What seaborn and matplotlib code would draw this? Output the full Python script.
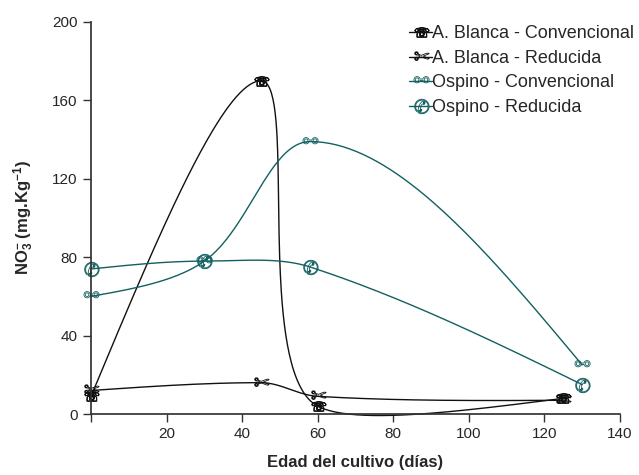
import numpy as np
import seaborn as sns
import matplotlib
matplotlib.use("Agg")
from matplotlib import pyplot as plt
from matplotlib.lines import Line2D
from matplotlib.path import Path
from matplotlib.textpath import TextPath
from matplotlib.font_manager import FontProperties

# sampling days
dias_blanca = [0, 45, 60, 125]
dias_ospino = [0, 30, 58, 130]

# NO3- values (mg/kg)
blanca_conv = [9, 170, 4, 8]
blanca_red = [12, 16, 9, 7]
ospino_conv = [60, 78, 139, 25]
ospino_red = [74, 78, 75, 15]

series_names = ["A. Blanca - Convencional", "A. Blanca - Reducida",
                "Ospino - Convencional", "Ospino - Reducida"]

BLACK = "#111111"
TEAL = "#136060"

sns.set_theme(style="ticks")
plt.rcParams["font.family"] = ["Liberation Sans", "DejaVu Sans"]
plt.rcParams["mathtext.fontset"] = "custom"
plt.rcParams["mathtext.rm"] = "Liberation Sans:bold"
plt.rcParams["mathtext.bf"] = "Liberation Sans:bold"
plt.rcParams["mathtext.default"] = "bf"


def glyph(ch):
    # turn a dingbat glyph into a centered marker path
    tp = TextPath((0, 0), ch, prop=FontProperties(family="DejaVu Sans"))
    v = tp.vertices.copy()
    c = (v.min(axis=0) + v.max(axis=0)) / 2
    return Path(v - c, tp.codes)


def smooth(xs, ys, n=80):
    # parametric hermite spline in axis-normalised space:
    # tangents split by segment length, flat-ish at peaks/valleys, natural ends
    p = np.column_stack([np.asarray(xs) / 140.0, np.asarray(ys) / 200.0])
    npt = len(p)
    L = np.linalg.norm(np.diff(p, axis=0), axis=1)
    t = np.linspace(0, 1, n)[:, None]
    h00 = 2 * t**3 - 3 * t**2 + 1
    h10 = t**3 - 2 * t**2 + t
    h01 = -2 * t**3 + 3 * t**2
    h11 = t**3 - t**2

    def tan(j, seg):
        m = (p[j + 1] - p[j - 1]) * L[seg] / (L[j - 1] + L[j])
        up = p[j, 1] - p[j - 1, 1]
        down = p[j + 1, 1] - p[j, 1]
        if up > 0 and down < 0:
            m[1] = 0.0
        elif up < 0 and down > 0:
            m[1] *= 0.5
        return m

    out = []
    for i in range(npt - 1):
        m1 = tan(i, i) if i > 0 else None
        m2 = tan(i + 1, i) if i + 1 < npt - 1 else None
        chord = p[i + 1] - p[i]
        if m1 is None:
            m1 = (3 * chord - m2) / 2
        if m2 is None:
            m2 = (3 * chord - m1) / 2
        out.append(h00 * p[i] + h10 * m1 + h01 * p[i + 1] + h11 * m2)
    out = np.vstack(out)
    return out[:, 0] * 140, out[:, 1] * 200


fig, ax = plt.subplots(figsize=(6.39, 4.75), dpi=100)
plt.subplots_adjust(left=0.1424, right=0.9703, top=0.9537, bottom=0.1284)

specs = [
    (dias_blanca, blanca_conv, BLACK, glyph("☏")),
    (dias_blanca, blanca_red, BLACK, glyph("✂")),
    (dias_ospino, ospino_conv, TEAL, glyph("⚯")),
    (dias_ospino, ospino_red, TEAL, glyph("✆")),
]

handles = []
for (xs, ys, col, mk), name in zip(specs, series_names):
    sx, sy = smooth(xs, ys)
    sns.lineplot(x=sx, y=sy, sort=False, estimator=None, color=col, lw=1.0,
                 ax=ax, clip_on=False)
    ax.plot(xs, ys, ls="none", marker=mk, ms=11, mfc="none", mec=col, mew=0.6,
            clip_on=False)
    handles.append(Line2D([], [], color=col, lw=1.0, marker=mk, ms=11,
                          mfc="none", mec=col, mew=0.6))

ax.set_xlim(0, 140)
ax.set_ylim(0, 200)
ax.set_xticks([0, 20, 40, 60, 80, 100, 120, 140])
ax.set_xticklabels(["", "20", "40", "60", "80", "100", "120", "140"])
ax.set_yticks([0, 40, 80, 120, 160, 200])
ax.tick_params(labelsize=11, length=6, width=1, color="#333333")
for s in ["top", "right"]:
    ax.spines[s].set_visible(False)
for s in ["left", "bottom"]:
    ax.spines[s].set_color("#333333")

ax.set_xlabel("Edad del cultivo (días)", fontsize=12, fontweight="bold", labelpad=10)
ax.set_ylabel(r"NO$_3^{-}$ (mg.Kg$^{-1}$)", fontsize=12, fontweight="bold", labelpad=12)

ax.legend(handles, series_names, loc="upper right", bbox_to_anchor=(1.041, 1.01),
          frameon=False, fontsize=13, handlelength=1.3, handletextpad=0.0,
          labelspacing=0.42, borderaxespad=0)

fig.savefig("out.png", dpi=100)
